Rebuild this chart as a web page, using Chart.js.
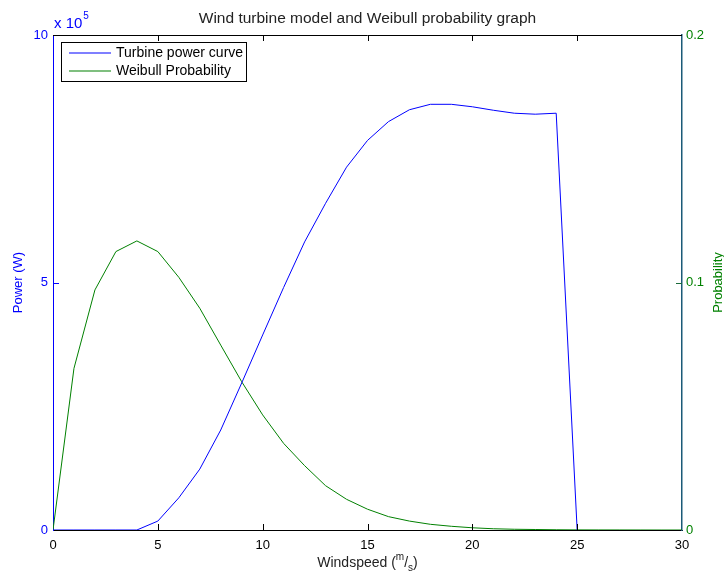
<!DOCTYPE html>
<html>
<head>
<meta charset="utf-8">
<script src="https://cdn.jsdelivr.net/npm/chart.js@4.4.1/dist/chart.umd.min.js"></script>
<style>
  html, body { margin: 0; padding: 0; background: #fff; }
  #wrap { width: 724px; height: 575px; }
</style>
</head>
<body>
<div id="wrap"><canvas id="chartWind" width="724" height="575"></canvas></div>
<script>
// Windspeed (m/s)
const windspeed = [0, 1, 2, 3, 4, 5, 6, 7, 8, 9, 10, 11, 12, 13, 14, 15, 16, 17, 18, 19, 20, 21, 22, 23, 24, 25, 26, 27, 28, 29, 30];

// Turbine power curve (W), 0..25 m/s
const power = [0, 0, 0, 0, 0, 18000, 65000, 123000, 202000, 297000, 394000, 490000, 582000, 660000, 733000, 787000,
    825000, 849000, 860000, 860000, 855000, 848000, 842000, 840000, 842000, 0];

// Weibull probability, 0..30 m/s
const weibull = [0, 0.0653, 0.097, 0.1125, 0.1168, 0.1125, 0.1021, 0.0896, 0.0747, 0.0599, 0.0465, 0.035, 0.026, 0.0179,
    0.0124, 0.0084, 0.0054, 0.0036, 0.0023, 0.0015, 0.0009, 0.0005, 0.0003, 0.0002, 0.0001, 0.00005, 0.00003, 0.00002, 0.00001, 0, 0];

const xTicks = [0, 5, 10, 15, 20, 25, 30];
const powerTicks = [0, 500000, 1000000];
const probTicks = [0, 0.1, 0.2];

const FONT = '"Liberation Sans", Arial, sans-serif';
const BLUE = '#0000ff';
const GREEN = '#008000';
const RIGHT_AXIS = '#1b5a78';
const lineColors = [BLUE, GREEN];

// Decoraciones estilo MATLAB: título, leyenda, ticks internos, etiquetas
const matlabDecor = {
    id: 'matlabDecor',
    afterDraw(chart) {
        const ctx = chart.ctx;
        const a = chart.chartArea;
        const sx = chart.scales.x, sy = chart.scales.y, sy1 = chart.scales.y1;
        ctx.save();

        // borde superior
        ctx.strokeStyle = '#000';
        ctx.lineWidth = 1;
        ctx.beginPath();
        ctx.moveTo(a.left, a.top + 0.5);
        ctx.lineTo(a.right, a.top + 0.5);
        ctx.stroke();

        // ticks internos en X (abajo y arriba)
        xTicks.forEach(v => {
            const px = Math.round(sx.getPixelForValue(v)) + 0.5;
            if (v === 0 || v === 30) return;
            ctx.beginPath();
            ctx.moveTo(px, a.bottom); ctx.lineTo(px, a.bottom - 6);
            ctx.moveTo(px, a.top); ctx.lineTo(px, a.top + 6);
            ctx.stroke();
        });

        // ticks internos en Y
        ctx.strokeStyle = BLUE;
        powerTicks.slice(1, -1).forEach(v => {
            const py = Math.round(sy.getPixelForValue(v)) + 0.5;
            ctx.beginPath();
            ctx.moveTo(a.left, py); ctx.lineTo(a.left + 6, py);
            ctx.stroke();
        });
        ctx.strokeStyle = '#1a6a3a';
        probTicks.slice(1, -1).forEach(v => {
            const py = Math.round(sy1.getPixelForValue(v)) + 0.5;
            ctx.beginPath();
            ctx.moveTo(a.right, py); ctx.lineTo(a.right - 6, py);
            ctx.stroke();
        });

        // título
        ctx.fillStyle = '#222';
        ctx.font = '15.5px ' + FONT;
        ctx.textAlign = 'center';
        ctx.textBaseline = 'middle';
        ctx.fillText('Wind turbine model and Weibull probability graph', (a.left + a.right) / 2, 19);

        // multiplicador x 10^5
        ctx.fillStyle = BLUE;
        ctx.textAlign = 'left';
        ctx.font = '15px ' + FONT;
        ctx.fillText('x 10', a.left + 1, 24);
        const w = ctx.measureText('x 10').width;
        ctx.font = '10px ' + FONT;
        ctx.fillText('5', a.left + 2 + w, 16);

        // títulos de ejes Y
        ctx.font = '13px ' + FONT;
        ctx.textAlign = 'center';
        ctx.save();
        ctx.translate(18, (a.top + a.bottom) / 2);
        ctx.rotate(-Math.PI / 2);
        ctx.fillStyle = BLUE;
        ctx.fillText('Power (W)', 0, 0);
        ctx.restore();
        ctx.save();
        ctx.translate(718, (a.top + a.bottom) / 2);
        ctx.rotate(-Math.PI / 2);
        ctx.fillStyle = GREEN;
        ctx.fillText('Probability', 0, 0);
        ctx.restore();

        // título eje X: Windspeed (m/s)
        ctx.fillStyle = '#222';
        ctx.textAlign = 'left';
        const parts = [['Windspeed (', 14, 0], ['m', 10, -6], ['/', 14, 0], ['s', 10, 5], [')', 14, 0]];
        let total = 0;
        parts.forEach(p => { ctx.font = p[1] + 'px ' + FONT; total += ctx.measureText(p[0]).width; });
        let cx = (a.left + a.right) / 2 - total / 2;
        parts.forEach(p => {
            ctx.font = p[1] + 'px ' + FONT;
            ctx.fillText(p[0], cx, 563 + p[2]);
            cx += ctx.measureText(p[0]).width;
        });

        // leyenda
        const lx = a.left + 8, ly = a.top + 7, lw = 185, lh = 39;
        ctx.fillStyle = '#fff';
        ctx.fillRect(lx, ly, lw, lh);
        ctx.strokeStyle = '#000';
        ctx.lineWidth = 1;
        ctx.strokeRect(lx + 0.5, ly + 0.5, lw, lh);
        ctx.font = '14px ' + FONT;
        chart.data.datasets.forEach((ds, i) => {
            const yy = Math.round(ly + 11 + i * 17.5);
            ctx.strokeStyle = lineColors[i];
            ctx.lineWidth = 1.2;
            ctx.beginPath();
            ctx.moveTo(lx + 8, yy); ctx.lineTo(lx + 50, yy);
            ctx.stroke();
            ctx.fillStyle = '#000';
            ctx.fillText(ds.label, lx + 55, yy);
        });

        ctx.restore();
    }
};

new Chart(document.getElementById('chartWind'), {
    type: 'line',
    data: {
        datasets: [{
            label: 'Turbine power curve',
            data: power.map((p, i) => ({ x: windspeed[i], y: p })),
            borderColor: lineColors[0],
            borderWidth: 1,
            pointRadius: 0,
            tension: 0,
            yAxisID: 'y'
        }, {
            label: 'Weibull Probability',
            data: weibull.map((p, i) => ({ x: windspeed[i], y: p })),
            borderColor: lineColors[1],
            borderWidth: 1,
            pointRadius: 0,
            tension: 0,
            yAxisID: 'y1'
        }]
    },
    options: {
        responsive: false,
        animation: false,
        layout: { padding: { top: 35, left: 0, right: 0, bottom: 0 } },
        plugins: { legend: { display: false }, tooltip: { enabled: false } },
        scales: {
            x: {
                type: 'linear', min: 0, max: 30,
                afterFit: s => { s.height = 45; },
                afterBuildTicks: s => { s.ticks = xTicks.map(v => ({ value: v })); },
                grid: { display: false, drawTicks: false },
                border: { color: '#000', width: 1 },
                ticks: { color: '#000', padding: 8, font: { family: FONT, size: 13 } }
            },
            y: {
                position: 'left', min: 0, max: 1000000,
                afterFit: s => { s.width = 53; },
                afterBuildTicks: s => { s.ticks = powerTicks.map(v => ({ value: v })); },
                grid: { display: false, drawTicks: false },
                border: { color: BLUE, width: 1 },
                ticks: { color: BLUE, padding: 5, font: { family: FONT, size: 13 }, callback: v => String(v / 100000) }
            },
            y1: {
                position: 'right', min: 0, max: 0.2,
                afterFit: s => { s.width = 42; },
                afterBuildTicks: s => { s.ticks = probTicks.map(v => ({ value: v })); },
                grid: { display: false, drawTicks: false },
                border: { color: RIGHT_AXIS, width: 1.5 },
                ticks: { color: GREEN, padding: 4, font: { family: FONT, size: 13 }, callback: v => String(v) }
            }
        }
    },
    plugins: [matlabDecor]
});
</script>
</body>
</html>
